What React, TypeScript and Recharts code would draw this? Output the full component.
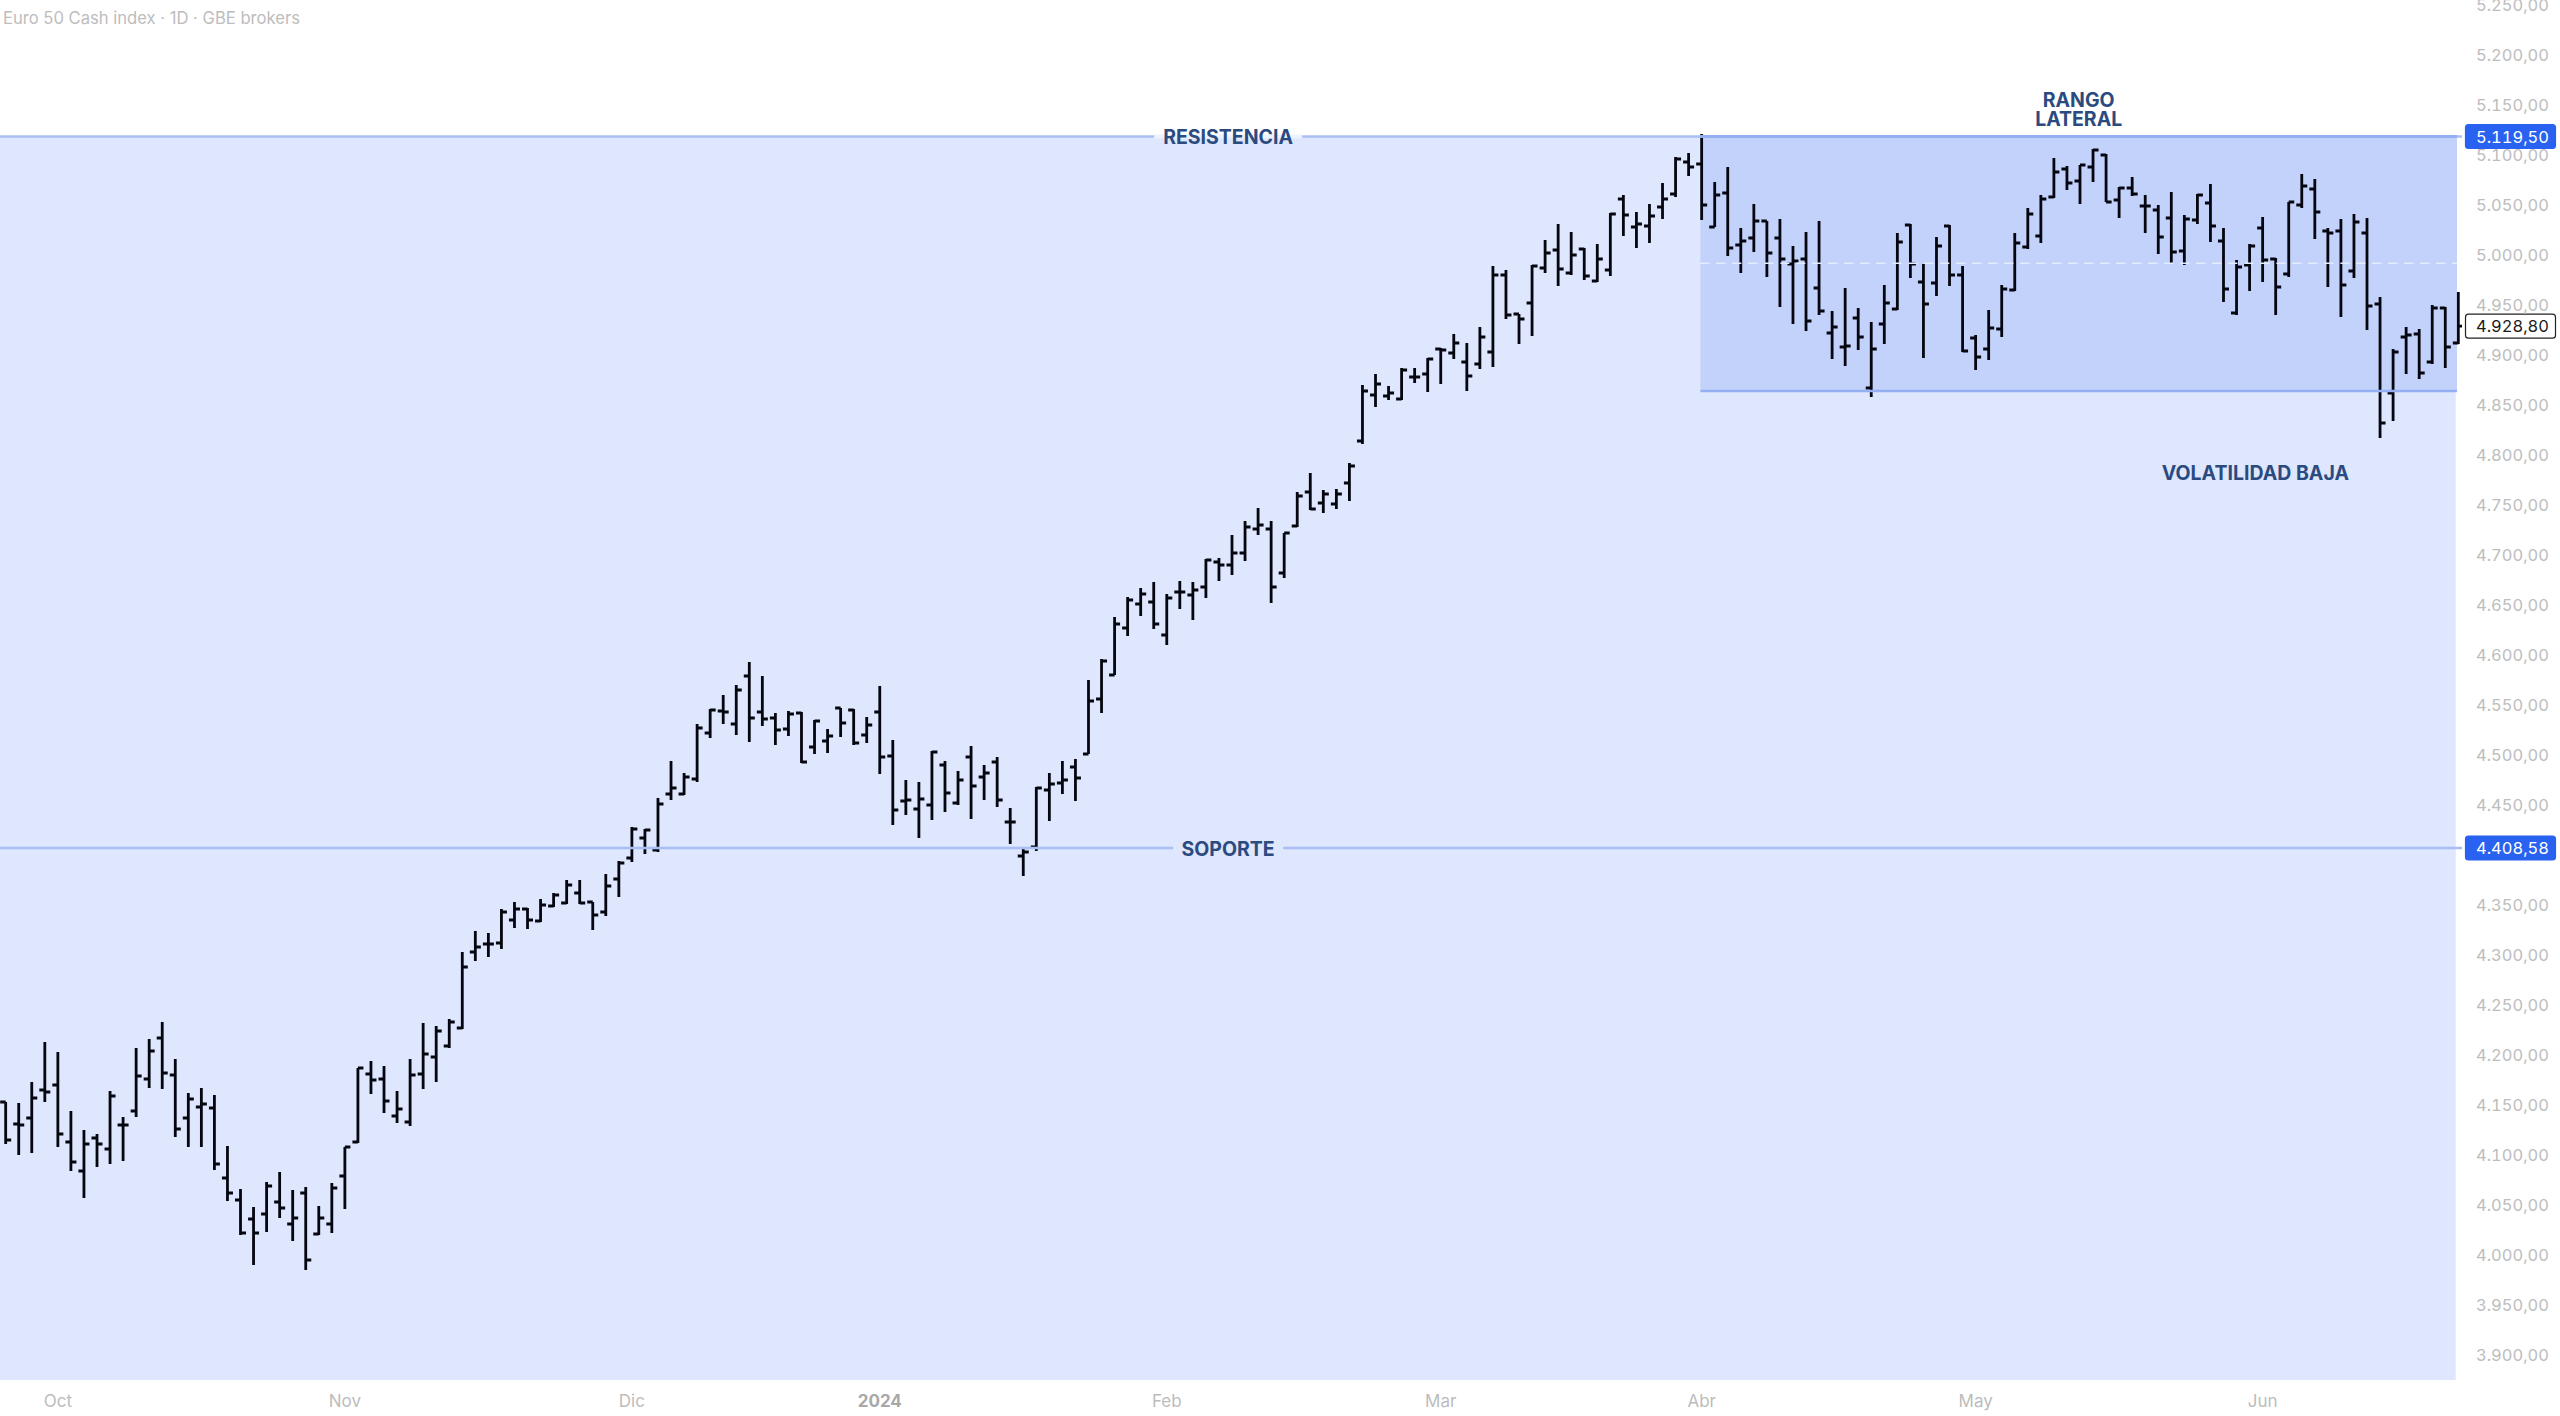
import { Bar, ComposedChart, ReferenceArea, ReferenceDot, ReferenceLine, XAxis, YAxis } from "recharts";

const WIDTH = 2560;
const HEIGHT = 1416;
const FONT = "Inter, 'Noto Sans', sans-serif";

// Daily bars
const highs = [
  4153, 4152, 4173, 4213, 4203, 4144, 4125, 4121, 4164, 4138, 4207, 4216, 4233, 4196, 4162, 4167, 4160, 4109, 4066, 4048,
  4073, 4083, 4065, 4068, 4049, 4072, 4108, 4187, 4194, 4189, 4164, 4196, 4232, 4229, 4236, 4303, 4324, 4322, 4346, 4353,
  4347, 4356, 4362, 4375, 4375, 4353, 4381, 4394, 4428, 4426, 4457, 4494, 4482, 4531, 4546, 4560, 4570, 4593, 4579, 4542,
  4544, 4543, 4535, 4526, 4547, 4546, 4538, 4569, 4515, 4475, 4473, 4504, 4494, 4484, 4509, 4490, 4498, 4447, 4408, 4468,
  4482, 4494, 4496, 4575, 4596, 4638, 4658, 4667, 4673, 4661, 4674, 4673, 4696, 4697, 4720, 4734, 4747, 4734, 4722, 4763,
  4782, 4765, 4766, 4792, 4870, 4881, 4869, 4887, 4887, 4897, 4907, 4921, 4912, 4928, 4989, 4985, 4941, 4990, 5015, 5031,
  5023, 5007, 5011, 5042, 5060, 5043, 5051, 5072, 5098, 5102, 5121, 5073, 5088, 5027, 5051, 5034, 5036, 5009, 5023, 5034,
  4944, 4967, 4947, 4933, 4970, 5022, 5031, 4991, 5018, 5030, 4989, 4920, 4945, 4970, 5022, 5047, 5060, 5097, 5089, 5090,
  5106, 5101, 5068, 5078, 5060, 5050, 5063, 5040, 5061, 5071, 5027, 4995, 5011, 5038, 4997, 5053, 5081, 5076, 5027, 5036,
  5041, 5037, 4958, 4906, 4928, 4926, 4950, 4948, 4963,
];
const lows = [
  4111, 4100, 4102, 4153, 4108, 4084, 4057, 4088, 4091, 4094, 4138, 4167, 4166, 4118, 4108, 4108, 4085, 4054, 4020, 3990,
  4023, 4037, 4014, 3985, 4020, 4022, 4046, 4112, 4161, 4142, 4132, 4129, 4166, 4173, 4207, 4226, 4294, 4298, 4306, 4327,
  4326, 4333, 4348, 4351, 4351, 4325, 4339, 4358, 4393, 4401, 4403, 4455, 4460, 4473, 4517, 4531, 4520, 4513, 4529, 4510,
  4519, 4492, 4501, 4502, 4518, 4510, 4512, 4481, 4430, 4440, 4417, 4435, 4443, 4450, 4436, 4455, 4448, 4411, 4379, 4404,
  4434, 4461, 4454, 4501, 4542, 4580, 4619, 4639, 4626, 4610, 4646, 4635, 4657, 4674, 4680, 4694, 4720, 4652, 4677, 4728,
  4745, 4742, 4746, 4754, 4811, 4848, 4855, 4855, 4872, 4863, 4871, 4896, 4864, 4886, 4888, 4936, 4911, 4919, 4982, 4969,
  4980, 4975, 4973, 4979, 5019, 5007, 5012, 5036, 5058, 5079, 5035, 5028, 4999, 4982, 5003, 4978, 4948, 4931, 4924, 4940,
  4896, 4889, 4905, 4858, 4911, 4945, 4977, 4897, 4959, 4969, 4903, 4885, 4895, 4918, 4964, 5006, 5012, 5057, 5065, 5051,
  5073, 5053, 5037, 5059, 5022, 5001, 4992, 4990, 5031, 5013, 4953, 4940, 4964, 4973, 4940, 4978, 5047, 5016, 4968, 4938,
  4977, 4925, 4817, 4834, 4881, 4876, 4891, 4887, 4911,
];
const opens = [
  4153, 4131, 4137, 4165, 4170, 4113, 4084, 4117, 4106, 4130, 4144, 4176, 4217, 4180, 4137, 4148, 4147, 4077, 4055, 4036,
  4041, 4053, 4031, 4062, 4021, 4031, 4079, 4113, 4181, 4176, 4139, 4133, 4181, 4198, 4209, 4227, 4303, 4311, 4312, 4335,
  4346, 4334, 4349, 4352, 4362, 4353, 4343, 4376, 4397, 4417, 4405, 4461, 4461, 4476, 4522, 4544, 4531, 4579, 4543, 4537,
  4526, 4542, 4508, 4514, 4547, 4545, 4520, 4543, 4499, 4454, 4446, 4450, 4490, 4452, 4498, 4478, 4493, 4433, 4399, 4408,
  4465, 4472, 4488, 4501, 4556, 4580, 4627, 4651, 4653, 4620, 4663, 4660, 4668, 4693, 4690, 4702, 4726, 4726, 4682, 4729,
  4763, 4752, 4751, 4772, 4814, 4860, 4859, 4856, 4878, 4881, 4906, 4902, 4893, 4891, 4903, 4980, 4941, 4952, 4987, 5005,
  4982, 5006, 4974, 4985, 5056, 5028, 5029, 5048, 5061, 5093, 5091, 5028, 5062, 5010, 5017, 5034, 5017, 4991, 4996, 4967,
  4922, 4908, 4937, 4867, 4931, 4946, 5030, 4973, 4972, 5029, 4980, 4917, 4906, 4926, 4965, 5008, 5019, 5058, 5086, 5074,
  5088, 5100, 5055, 5067, 5049, 5045, 5037, 5004, 5035, 5052, 5014, 4942, 4990, 5027, 4996, 4981, 5050, 5066, 5024, 5024,
  4984, 5022, 4951, 4862, 4918, 4921, 4893, 4947, 4912,
];
const closes = [
  4115, 4130, 4157, 4163, 4121, 4093, 4111, 4111, 4159, 4130, 4179, 4204, 4182, 4126, 4156, 4151, 4091, 4062, 4022, 4022,
  4069, 4047, 4037, 3995, 4037, 4067, 4108, 4187, 4175, 4154, 4146, 4180, 4201, 4224, 4233, 4288, 4308, 4311, 4343, 4346,
  4335, 4350, 4360, 4370, 4352, 4340, 4369, 4392, 4426, 4425, 4451, 4467, 4478, 4527, 4545, 4543, 4565, 4537, 4536, 4525,
  4541, 4493, 4534, 4519, 4532, 4512, 4530, 4498, 4445, 4455, 4456, 4503, 4462, 4475, 4469, 4482, 4455, 4433, 4403, 4467,
  4471, 4475, 4477, 4554, 4594, 4631, 4655, 4661, 4631, 4657, 4663, 4665, 4695, 4690, 4702, 4728, 4730, 4668, 4722, 4759,
  4746, 4761, 4761, 4789, 4864, 4871, 4862, 4885, 4878, 4896, 4905, 4912, 4879, 4918, 4980, 4940, 4936, 4989, 5002, 4986,
  5000, 4979, 4996, 5041, 5040, 5031, 5039, 5056, 5096, 5088, 5050, 5060, 5007, 5014, 5034, 5002, 4996, 4994, 4934, 4944,
  4928, 4909, 4918, 4906, 4952, 5013, 4991, 4951, 5009, 4980, 4904, 4898, 4927, 4966, 5012, 5041, 5056, 5083, 5072, 5090,
  5105, 5053, 5067, 5061, 5049, 5018, 5003, 5036, 5060, 5029, 4966, 4988, 5009, 4995, 4968, 5053, 5069, 5043, 5022, 4970,
  5033, 4949, 4832, 4903, 4920, 4882, 4947, 4908, 4928.8,
];

const monthTicks = [4, 26, 48, 67, 89, 110, 130, 151, 173];
const monthLabels = ["Oct", "Nov", "Dic", "2024", "Feb", "Mar", "Abr", "May", "Jun"];
// 4.400,00 sits hidden behind the support tag in the original
const priceTicks = [
  3900, 3950, 4000, 4050, 4100, 4150, 4200, 4250, 4300, 4350, 4450, 4500, 4550, 4600, 4650, 4700, 4750, 4800,
  4850, 4900, 4950, 5000, 5050, 5100, 5150, 5200, 5250,
];

const resistance = 5118.5;
const support = 4407;
const rangeLow = 4864;
const rangeMid = 4991.75;
const lastClose = 4928.8;

const bars = highs.map((h, i) => ({
  i,
  range: [lows[i], h],
  open: opens[i],
  close: closes[i],
}));

const X_MIN = -0.437;
const X_MAX = 188.28;
const Y_MIN = 3875;
const Y_MAX = 5255;

const fmtPrice = (v: number) =>
  v.toFixed(2).replace(".", ",").replace(/\B(?=(\d{3})(?!\d))/g, ".");

function OhlcBar(props: any) {
  const { x, y, width, height, payload } = props;
  const cx = x + width / 2;
  const [low, high] = payload.range;
  const py = (p: number) => y + ((high - p) / (high - low)) * height;
  return (
    <path
      d={`M${cx} ${y}V${y + height}M${cx - 5.5} ${py(payload.open)}H${cx}M${cx} ${py(payload.close)}H${cx + 5.5}`}
      stroke="#05060f"
      strokeWidth={2.8}
      fill="none"
    />
  );
}

function MonthTick(props: any) {
  const { x, payload } = props;
  const label = monthLabels[monthTicks.indexOf(payload.value)];
  const isYear = label === "2024";
  return (
    <text
      x={x}
      y={1406.5}
      textAnchor="middle"
      fontFamily={FONT}
      fontSize={17}
      fontWeight={isYear ? 700 : 400}
      fill={isYear ? "#a8a8a8" : "#bcbcbc"}
    >
      {label}
    </text>
  );
}

function PriceTick(props: any) {
  const { y, payload } = props;
  return (
    <text
      x={2549}
      y={y + 6}
      textAnchor="end"
      fontFamily={FONT}
      fontSize={16.5}
      fill="#bdbdbd"
      style={{ fontVariantNumeric: "tabular-nums" }}
    >
      {fmtPrice(payload.value)}
    </text>
  );
}

// Text straddling a level line; only the line itself is cut behind the text
function LineLabel({ cx, cy, text, gap, bg }: any) {
  return (
    <g>
      <rect x={cx - gap / 2} y={cy - 2} width={gap} height={4} fill={bg} />
      <text x={cx} y={cy + 7.5} textAnchor="middle" fontFamily={FONT} fontSize={19.5} fontWeight={700} fill="#2b4b80">
        {text}
      </text>
    </g>
  );
}

function Note({ cx, cy, lines }: any) {
  return (
    <text textAnchor="middle" fontFamily={FONT} fontSize={19.5} fontWeight={700} fill="#2b4b80">
      {lines.map((l: string, k: number) => (
        <tspan key={l} x={cx} y={cy + k * 19}>
          {l}
        </tspan>
      ))}
    </text>
  );
}

function PriceTag({ cy, text, fill, color, stroke }: any) {
  return (
    <g>
      <rect x={2465.5} y={cy - 12} width={90} height={24} rx={3} fill={fill} stroke={stroke} strokeWidth={1.2} />
      <text
        x={2549}
        y={cy + 6}
        textAnchor="end"
        fontFamily={FONT}
        fontSize={16.5}
        fill={color}
        style={{ fontVariantNumeric: "tabular-nums" }}
      >
        {text}
      </text>
    </g>
  );
}

export default function App() {
  return (
    <div style={{ position: "absolute", left: 0, top: 0, width: WIDTH, height: HEIGHT, background: "#fff" }}>
      <div
        style={{
          position: "absolute",
          left: 3,
          top: 8,
          fontFamily: FONT,
          fontSize: 16.6,
          lineHeight: "20px",
          color: "#bdbdbd",
          zIndex: 2,
        }}
      >
        Euro 50 Cash index · 1D · GBE brokers
      </div>
      <ComposedChart width={WIDTH} height={HEIGHT} data={bars} margin={{ top: 0, right: 0, bottom: 0, left: 0 }}>
        <XAxis
          dataKey="i"
          type="number"
          domain={[X_MIN, X_MAX]}
          allowDataOverflow
          ticks={monthTicks}
          interval={0}
          height={36}
          axisLine={false}
          tickLine={false}
          tick={<MonthTick />}
        />
        <YAxis
          orientation="right"
          type="number"
          domain={[Y_MIN, Y_MAX]}
          allowDataOverflow
          ticks={priceTicks}
          interval={0}
          width={98}
          axisLine={false}
          tickLine={false}
          tick={<PriceTick />}
        />

        <ReferenceArea x1={X_MIN} x2={187.8} y1={Y_MIN} y2={resistance} fill="#dee7fd" fillOpacity={1} stroke="none" />
        <ReferenceArea x1={129.9} x2={187.9} y1={rangeLow} y2={resistance} fill="#c3d2fb" fillOpacity={1} stroke="none" />

        <ReferenceLine y={resistance} stroke="#a9bff3" strokeWidth={2.5} />
        <ReferenceLine y={support} stroke="#a9bff3" strokeWidth={2.5} />
        <ReferenceLine
          segment={[{ x: 129.9, y: resistance }, { x: 187.9, y: resistance }]}
          stroke="#95aff3"
          strokeWidth={3}
        />
        <ReferenceLine
          segment={[{ x: 129.9, y: rangeLow }, { x: 187.9, y: rangeLow }]}
          stroke="#95aff3"
          strokeWidth={2.5}
        />
        <ReferenceLine
          segment={[{ x: 129.9, y: rangeMid }, { x: 187.9, y: rangeMid }]}
          stroke="#e6ecff"
          strokeWidth={1.5}
          strokeDasharray="9 7"
        />

        <Bar dataKey="range" barSize={3} isAnimationActive={false} shape={<OhlcBar />} />

        <ReferenceDot
          x={93.7}
          y={resistance}
          ifOverflow="visible"
          shape={(p: any) => <LineLabel cx={p.cx} cy={p.cy} text="RESISTENCIA" gap={148} bg="#eef2fe" />}
        />
        <ReferenceDot
          x={93.7}
          y={support}
          ifOverflow="visible"
          shape={(p: any) => <LineLabel cx={p.cx} cy={p.cy} text="SOPORTE" gap={110} bg="#dee7fd" />}
        />
        <ReferenceDot
          x={158.9}
          y={5148}
          ifOverflow="visible"
          shape={(p: any) => <Note cx={p.cx} cy={p.cy} lines={["RANGO", "LATERAL"]} />}
        />
        <ReferenceDot
          x={172.44}
          y={4775}
          ifOverflow="visible"
          shape={(p: any) => <Note cx={p.cx} cy={p.cy} lines={["VOLATILIDAD BAJA"]} />}
        />

        <ReferenceDot
          x={188}
          y={resistance}
          ifOverflow="visible"
          shape={(p: any) => <PriceTag cy={p.cy} text="5.119,50" fill="#2962f0" color="#fff" stroke="#2962f0" />}
        />
        <ReferenceDot
          x={188}
          y={support}
          ifOverflow="visible"
          shape={(p: any) => <PriceTag cy={p.cy} text="4.408,58" fill="#2962f0" color="#fff" stroke="#2962f0" />}
        />
        <ReferenceDot
          x={188}
          y={lastClose}
          ifOverflow="visible"
          shape={(p: any) => <PriceTag cy={p.cy} text="4.928,80" fill="#fff" color="#1a1a1a" stroke="#222" />}
        />
      </ComposedChart>
    </div>
  );
}
